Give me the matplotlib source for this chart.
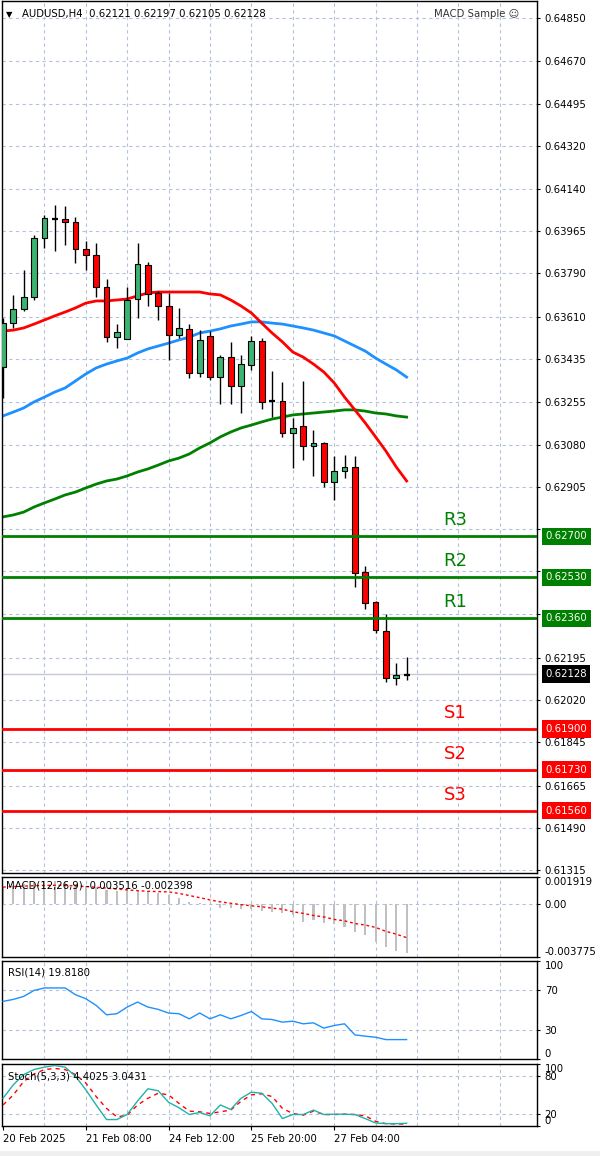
import numpy as np
import matplotlib.pyplot as plt
import matplotlib.transforms as mtransforms
from matplotlib.patches import Rectangle

plt.rcParams['font.family'] = ['DejaVu Sans']

# ---- data (AUDUSD H4) ----
opens = [0.63402, 0.63584, 0.63643, 0.63692, 0.63937, 0.64020, 0.64016, 0.64004, 0.63892, 0.63867,
         0.63734, 0.63526, 0.63518, 0.63684, 0.63825, 0.63709, 0.63655, 0.63535, 0.63560, 0.63377,
         0.63531, 0.63360, 0.63443, 0.63323, 0.63410, 0.63510, 0.63259, 0.63261, 0.63128, 0.63157,
         0.63074, 0.63087, 0.62925, 0.62970, 0.62987, 0.62551, 0.62427, 0.62307, 0.62112, 0.62121]
highs = [0.63605, 0.63701, 0.63804, 0.63950, 0.64033, 0.64074, 0.64070, 0.64024, 0.63925, 0.63916,
         0.63767, 0.63580, 0.63734, 0.63916, 0.63838, 0.63717, 0.63709, 0.63647, 0.63580, 0.63555,
         0.63551, 0.63452, 0.63506, 0.63452, 0.63531, 0.63522, 0.63385, 0.63340, 0.63190, 0.63344,
         0.63141, 0.63091, 0.63033, 0.63037, 0.63033, 0.62576, 0.62431, 0.62377, 0.62174, 0.62197]
lows = [0.63273, 0.63564, 0.63634, 0.63680, 0.63896, 0.63883, 0.63908, 0.63833, 0.63804, 0.63692,
        0.63506, 0.63481, 0.63518, 0.63605, 0.63655, 0.63597, 0.63431, 0.63522, 0.63356, 0.63360,
        0.63348, 0.63248, 0.63248, 0.63211, 0.63389, 0.63228, 0.63194, 0.63111, 0.62983, 0.63016,
        0.62950, 0.62904, 0.62850, 0.62941, 0.62489, 0.62398, 0.62298, 0.62095, 0.62083, 0.62105]
closes = [0.63584, 0.63643, 0.63692, 0.63937, 0.64020, 0.64016, 0.64004, 0.63892, 0.63867, 0.63734,
          0.63526, 0.63547, 0.63680, 0.63829, 0.63705, 0.63655, 0.63535, 0.63564, 0.63377, 0.63514,
          0.63360, 0.63443, 0.63323, 0.63414, 0.63510, 0.63257, 0.63259, 0.63128, 0.63149, 0.63074,
          0.63087, 0.62925, 0.62970, 0.62987, 0.62547, 0.62423, 0.62311, 0.62112, 0.62124, 0.62128]

ma_red = [0.63551, 0.63555, 0.63564, 0.63580, 0.63597, 0.63614, 0.63630, 0.63647, 0.63667, 0.63676,
          0.63676, 0.63680, 0.63684, 0.63697, 0.63709, 0.63713, 0.63713, 0.63713, 0.63713, 0.63713,
          0.63705, 0.63701, 0.63680, 0.63655, 0.63626, 0.63584, 0.63543, 0.63506, 0.63464, 0.63443,
          0.63414, 0.63381, 0.63336, 0.63277, 0.63224, 0.63170, 0.63112, 0.63053, 0.62987, 0.62929]
ma_blue = [0.63199, 0.63215, 0.63232, 0.63257, 0.63277, 0.63298, 0.63315, 0.63344, 0.63373, 0.63398,
           0.63414, 0.63427, 0.63439, 0.63460, 0.63477, 0.63489, 0.63501, 0.63514, 0.63526, 0.63543,
           0.63551, 0.63560, 0.63572, 0.63580, 0.63589, 0.63589, 0.63584, 0.63580, 0.63572, 0.63564,
           0.63555, 0.63543, 0.63531, 0.63510, 0.63489, 0.63468, 0.63439, 0.63414, 0.63390, 0.63360]
ma_green = [0.62780, 0.62788, 0.62800, 0.62821, 0.62838, 0.62854, 0.62871, 0.62883, 0.62900, 0.62916,
            0.62929, 0.62937, 0.62950, 0.62966, 0.62979, 0.62995, 0.63012, 0.63024, 0.63041, 0.63066,
            0.63087, 0.63112, 0.63132, 0.63149, 0.63161, 0.63174, 0.63186, 0.63194, 0.63203, 0.63207,
            0.63211, 0.63215, 0.63219, 0.63224, 0.63224, 0.63219, 0.63211, 0.63207, 0.63199, 0.63194]

res_levels = [0.62700, 0.62530, 0.62360]
res_names = ['R3', 'R2', 'R1']
sup_levels = [0.61900, 0.61730, 0.61560]
sup_names = ['S1', 'S2', 'S3']
last_price = 0.62128

price_ticks = [0.64850, 0.64670, 0.64495, 0.64320, 0.64140, 0.63965, 0.63790, 0.63610, 0.63435,
               0.63255, 0.63080, 0.62905, 0.62730, 0.62555, 0.62375, 0.62195, 0.62020, 0.61845,
               0.61665, 0.61490, 0.61315]
hidden_ticks = [0.62730, 0.62555, 0.62375]  # covered by the level boxes in the reference

macd_hist = [0.00120, 0.00130, 0.00140, 0.00150, 0.00160, 0.00160, 0.00155, 0.00145, 0.00130, 0.00120,
             0.00100, 0.00090, 0.00090, 0.00095, 0.00090, 0.00080, 0.00065, 0.00040, 0.00015, 0.00005,
             -0.00010, -0.00031, -0.00031, -0.00038, -0.00038, -0.00048, -0.00055, -0.00067, -0.00079, -0.00127,
             -0.00115, -0.00139, -0.00144, -0.00163, -0.00199, -0.00222, -0.00270, -0.00306, -0.00335, -0.003516]
macd_signal = [0.00120, 0.00124, 0.00127, 0.00130, 0.00132, 0.00133, 0.00132, 0.00128, 0.00124, 0.00119,
               0.00113, 0.00106, 0.00100, 0.00095, 0.00090, 0.00088, 0.00086, 0.00075, 0.00060, 0.00045,
               0.00029, 0.00015, 0.00005, -0.00005, -0.00013, -0.00020, -0.00030, -0.00037, -0.00055, -0.00067,
               -0.00082, -0.00092, -0.00110, -0.00120, -0.00139, -0.00150, -0.00167, -0.00195, -0.00215, -0.002398]

rsi = [58.8, 60.8, 63.9, 70.0, 72.5, 72.5, 72.5, 65.6, 61.5, 54.7,
       45.1, 46.2, 53.0, 58.1, 53.0, 50.6, 46.9, 46.2, 41.0, 46.9,
       41.0, 45.1, 41.0, 44.4, 48.5, 41.0, 40.3, 37.6, 38.6, 35.9,
       36.9, 31.5, 34.2, 35.9, 24.6, 23.3, 22.2, 19.8, 19.8, 19.818]

stoch_k = [44.7, 66.6, 83.0, 91.1, 94.9, 97.6, 94.9, 80.2, 58.4, 33.9,
           10.4, 10.4, 18.5, 40.4, 60.0, 56.8, 38.2, 29.5, 18.5, 21.8,
           16.4, 33.9, 26.7, 44.7, 54.5, 52.9, 36.5, 12.0, 18.5, 18.5,
           25.7, 18.5, 19.0, 19.0, 18.5, 12.0, 4.9, 3.8, 3.8, 4.4025]
stoch_d = [33.9, 50.2, 72.0, 84.0, 91.0, 92.8, 91.0, 83.0, 69.3, 47.5,
           28.4, 14.7, 17.5, 33.9, 44.7, 52.9, 50.2, 36.5, 24.0, 22.9,
           20.2, 22.9, 25.7, 39.8, 50.2, 51.9, 47.5, 28.4, 20.2, 17.5,
           24.0, 18.5, 18.5, 19.0, 18.5, 16.4, 7.6, 3.8, 3.3, 3.0431]

date_pos = [0, 8, 16, 24, 32]
date_labels = ['20 Feb 2025', '21 Feb 08:00', '24 Feb 12:00', '25 Feb 20:00', '27 Feb 04:00']

# ---- layout helpers (pixel boxes of the MT4 window) ----
W, H = 600, 1156
FS = 7.3
grid_c = '#b3c2da'
grid_ls = (0, (3, 3))


def px_rect(x0, y0, x1, y1):
    return [x0 / W, 1 - y1 / H, (x1 - x0) / W, (y1 - y0) / H]


def setup(ax, ylim, ticks, labels, hgrid):
    ax.set_xlim(-0.1, 51.6)
    ax.set_ylim(*ylim)
    ax.yaxis.tick_right()
    ax.set_yticks(ticks)
    ax.set_yticklabels(labels)
    ax.tick_params(axis='y', direction='out', length=2.5, width=0.8, labelsize=FS, pad=3)
    ax.tick_params(axis='x', bottom=False, labelbottom=False)
    for s in ax.spines.values():
        s.set_color('black')
        s.set_linewidth(1)
    for k in range(4, 52, 4):
        ax.axvline(k, color=grid_c, ls=grid_ls, lw=0.8, zorder=0)
    for g in hgrid:
        ax.axhline(g, color=grid_c, ls=grid_ls, lw=0.8, zorder=0)


def level_box(ax, value, color):
    blend = mtransforms.blended_transform_factory(ax.transAxes, ax.transData)
    ax.text(1.0155, value, f'{value:.5f}', transform=blend, fontsize=FS, color='white',
            va='center', ha='left', clip_on=False, zorder=10,
            bbox=dict(boxstyle='square,pad=0.35', fc=color, ec='none'))


fig = plt.figure(figsize=(6, 11.56), dpi=100)
idx = np.arange(len(closes))

# ---- main price panel ----
ax = fig.add_axes(px_rect(2, 1, 537, 873))
price_labels = ['' if t in hidden_ticks else f'{t:.5f}' for t in price_ticks]
setup(ax, (0.613024, 0.649205), price_ticks, price_labels, price_ticks)

ax.plot(idx, ma_green, color='#008000', lw=2, zorder=2)
ax.plot(idx, ma_blue, color='#1e90ff', lw=2, zorder=2)
ax.plot(idx, ma_red, color='#ff0000', lw=2, zorder=2)

ax.vlines(idx, lows, highs, color='black', lw=1, zorder=3)
for i in idx:
    o, c = opens[i], closes[i]
    if abs(c - o) < 0.00008:
        ax.hlines((o + c) / 2, i - 0.28, i + 0.28, color='black', lw=1.6, zorder=4)
        continue
    col = '#3cb371' if c > o else '#ff0000'
    ax.add_patch(Rectangle((i - 0.28, min(o, c)), 0.56, abs(c - o),
                           facecolor=col, edgecolor='black', lw=0.8, zorder=4))

ax.axhline(last_price, color='#c3cad6', lw=1, zorder=1)

for lvl, name in zip(res_levels, res_names):
    ax.axhline(lvl, color='#008000', lw=2, zorder=5)
    ax.annotate(name, (43.7, lvl), xytext=(0, 11.5), textcoords='offset points',
                ha='center', va='center', fontsize=13, color='#008000', zorder=6)
    level_box(ax, lvl, '#008000')
for lvl, name in zip(sup_levels, sup_names):
    ax.axhline(lvl, color='#ff0000', lw=2, zorder=5)
    ax.annotate(name, (43.7, lvl), xytext=(0, 11.5), textcoords='offset points',
                ha='center', va='center', fontsize=13, color='#ff0000', zorder=6)
    level_box(ax, lvl, '#ff0000')
level_box(ax, last_price, 'black')

ax.text(0.008, 0.985, '▼', transform=ax.transAxes, fontsize=6, va='center', ha='left')
ax.text(0.037, 0.985, f'AUDUSD,H4  {opens[-1]:.5f} {highs[-1]:.5f} {lows[-1]:.5f} {closes[-1]:.5f}',
        transform=ax.transAxes, fontsize=FS, va='center', ha='left')
ax.text(0.807, 0.985, 'MACD Sample ☺', transform=ax.transAxes, fontsize=FS, va='center',
        ha='left', color='#333333')

# ---- MACD panel ----
axm = fig.add_axes(px_rect(2, 877, 537, 957))
setup(axm, (-0.003775, 0.001919), [0.001919, 0.0, -0.003775], ['0.001919', '0.00', '-0.003775'], [0.0])
axm.bar(idx, macd_hist, width=0.2, color='#c0c0c0', zorder=2)
axm.plot(idx, macd_signal, color='#ff0000', lw=1, ls=(0, (2, 2)), zorder=3)
axm.text(0.008, 0.89, f'MACD(12,26,9) {macd_hist[-1]:.6f} {macd_signal[-1]:.6f}',
         transform=axm.transAxes, fontsize=FS, va='center', ha='left', zorder=5)

# ---- RSI panel ----
axr = fig.add_axes(px_rect(2, 961, 537, 1059))
setup(axr, (0, 100), [100, 70, 30, 0], ['100', '70', '30', '0'], [70, 30])
axr.plot(idx, rsi, color='#1e90ff', lw=1, zorder=3)
axr.text(0.012, 0.885, f'RSI(14) {rsi[-1]:.4f}', transform=axr.transAxes, fontsize=FS,
         va='center', ha='left')

# ---- Stochastic panel ----
axs = fig.add_axes(px_rect(2, 1064, 537, 1126))
setup(axs, (0, 100), [100, 80, 20, 0], ['100', '80', '20', '0'], [80, 20])
axs.plot(idx, stoch_d, color='#ff0000', lw=1, ls=(0, (3, 3)), zorder=3)
axs.plot(idx, stoch_k, color='#20b2aa', lw=1, zorder=4)
axs.text(0.012, 0.8, f'Stoch(5,3,3) {stoch_k[-1]:.4f} {stoch_d[-1]:.4f}', transform=axs.transAxes,
         fontsize=FS, va='center', ha='left', zorder=5)
axs.set_xticks(date_pos)
axs.set_xticklabels(date_labels)
axs.tick_params(axis='x', bottom=True, labelbottom=True, direction='out', length=3,
                width=0.8, labelsize=FS, pad=2.5)
for lab in axs.get_xticklabels():
    lab.set_ha('left')

for a in (axm, axr, axs):
    labs = a.get_yticklabels()
    labs[0].set_va('top')
    labs[-1].set_va('bottom')

fig.patches.append(Rectangle((0, 0), 1, 5 / H, transform=fig.transFigure,
                             facecolor='#efefef', edgecolor='none'))

fig.savefig('out.png', dpi=100)
